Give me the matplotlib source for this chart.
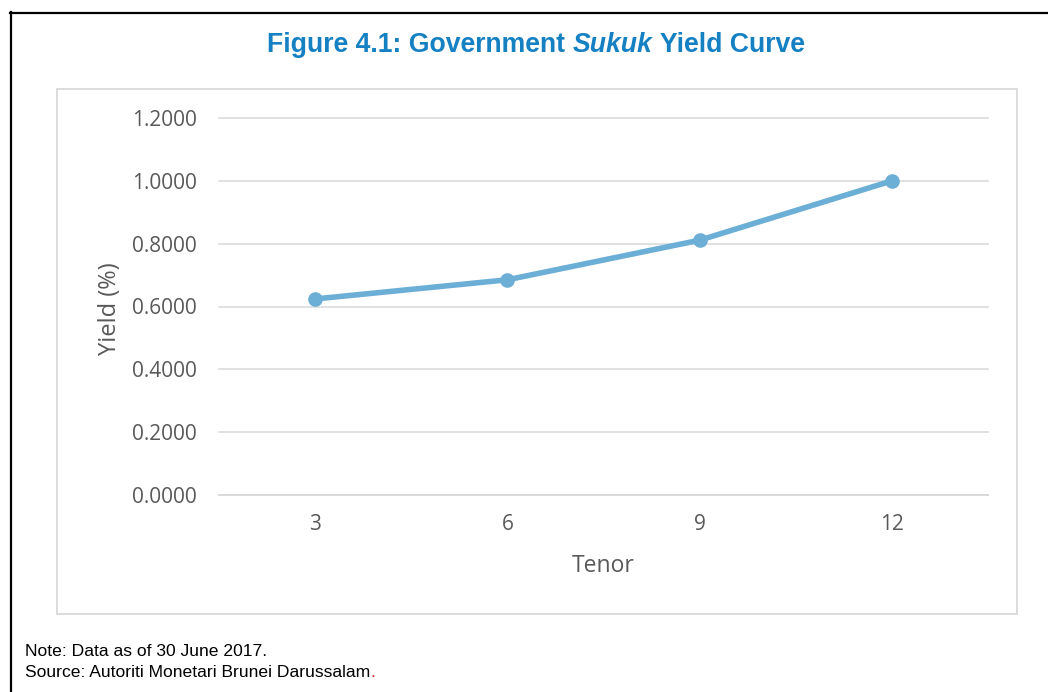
import matplotlib
import matplotlib.pyplot as plt
from matplotlib.patches import Rectangle
from matplotlib.lines import Line2D

tenors = ["3", "6", "9", "12"]
yields = [0.624, 0.685, 0.811, 1.000]
y_ticks = [0.0, 0.2, 0.4, 0.6, 0.8, 1.0, 1.2]

W, H = 1048, 692
GREY_TXT = "#595959"
GRID = "#d9d9d9"
LINE_BLUE = "#6BAED6"
TITLE_BLUE = "#1580C2"

matplotlib.rcParams.update({
    "font.family": "Open Sans",
})

fig = plt.figure(figsize=(W / 100, H / 100), dpi=100)
fig.patch.set_facecolor("white")

# outer page lines (top and left only)
fig.add_artist(Line2D([10.5 / W, 10.5 / W], [0, 1 - 12 / H], color="black",
                      lw=1.6, transform=fig.transFigure))
fig.add_artist(Line2D([10 / W, 1], [1 - 12.5 / H, 1 - 12.5 / H], color="black",
                      lw=1.6, transform=fig.transFigure))

# chart frame
fig.add_artist(Rectangle((57 / W, 1 - 614 / H), 960 / W, 525 / H,
                         transform=fig.transFigure, fill=False,
                         edgecolor=GRID, lw=1.3))

ax = fig.add_axes([219 / W, 1 - 495 / H, 769 / W, 377 / H])
x = list(range(len(tenors)))
ax.plot(x, yields, color=LINE_BLUE, lw=4, marker="o", markersize=9.5,
        solid_capstyle="round", zorder=3)

ax.set_xlim(-0.5, len(tenors) - 0.5)
ax.set_ylim(0, 1.2)
ax.set_yticks(y_ticks)
ax.set_yticklabels([f"{v:.4f}" for v in y_ticks])
ax.set_xticks(x)
ax.set_xticklabels(tenors)
ax.yaxis.grid(True, color=GRID, lw=1.1)
for gl in ax.get_ygridlines():
    gl.set_clip_on(False)
ax.set_axisbelow(True)
for s in ["top", "right", "left"]:
    ax.spines[s].set_visible(False)
ax.spines["bottom"].set_color(GRID)
ax.spines["bottom"].set_linewidth(1.3)
ax.tick_params(axis="both", length=0, labelsize=15, labelcolor=GREY_TXT)
ax.tick_params(axis="y", pad=16)
ax.tick_params(axis="x", pad=14)

ax.set_ylabel("Yield (%)", fontsize=17, color=GREY_TXT, va="center")
ax.yaxis.set_label_coords(-0.1417, 0.493)
ax.set_xlabel("Tenor", fontsize=16.5, color=GREY_TXT, va="center")
ax.xaxis.set_label_coords(0.5, -0.188)

# title with italic word
fig.canvas.draw()
r = fig.canvas.get_renderer()
parts = [("Figure 4.1: Government ", "normal"), ("Sukuk", "italic"),
         (" Yield Curve", "normal")]
txts = []
for s, st in parts:
    t = fig.text(0, 1 - 52 / H, s, fontsize=19.2, fontweight="bold", style=st,
                 family="Liberation Sans", color=TITLE_BLUE, va="baseline")
    txts.append(t)
widths = [t.get_window_extent(r).width for t in txts]
xpos = 536 - sum(widths) / 2
for t, w in zip(txts, widths):
    t.set_x(xpos / W)
    xpos += w

# notes
fig.text(25 / W, 1 - 656 / H, "Note: Data as of 30 June 2017.", fontsize=12.6,
         family="Liberation Sans", color="black", va="baseline")
src = fig.text(25 / W, 1 - 677 / H, "Source: Autoriti Monetari Brunei Darussalam",
               fontsize=12.6, family="Liberation Sans", color="black", va="baseline")
sw = src.get_window_extent(r).width
fig.text((25 + sw) / W, 1 - 677 / H, ".", fontsize=12.6,
         family="Liberation Sans", color="#E3201B", va="baseline")

fig.savefig("out.png", dpi=100, facecolor="white")
